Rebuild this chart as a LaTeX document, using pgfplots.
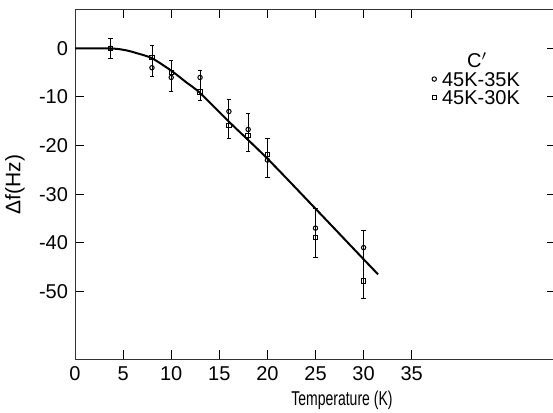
\documentclass[border=0pt]{standalone}
\usepackage{fontspec}
\setmainfont{Liberation Sans}
\usepackage{graphicx}
\usepackage{pgfplots}
\pgfplotsset{compat=1.18}
\usetikzlibrary{calc}

\begin{document}
\begin{tikzpicture}
\begin{axis}[
    name=ax,
    scale only axis,
    width=240.5pt, height=175pt,
    xmin=0, xmax=50,
    ymin=-64, ymax=8,
    xtick={0,5,...,35},
    xticklabels={0,5,10,15,20,25,30,35},
    ytick={-50,-40,...,0},
    yticklabels={-50,-40,-30,-20,-10,0},
    tick label style={font=\fontsize{10}{12}\selectfont},
    major tick length=4.5pt,
    axis line style={line width=0.5pt, black!80},
    tick style={line width=0.5pt, black},
    xlabel={\scalebox{0.7}[1]{Temperature (K)}},
    xlabel style={at={(rel axis cs:0.555,0)}, anchor=base, yshift=-23pt, font=\fontsize{10}{12}\selectfont},
    ylabel={Δf(Hz)},
    ylabel style={at={(rel axis cs:-0.1247,0.5)}, anchor=center, font=\fontsize{10.5}{12}\selectfont},
    legend style={at={(axis cs:36.45,-8.25)}, anchor=west, draw=none, fill=none,
        font=\fontsize{10}{12}\selectfont, row sep=1.35pt, column sep=2.3pt,
        nodes={inner sep=0.5pt, text height=7pt, text depth=0pt}},
    legend cell align=left,
    legend image code/.code={\draw[#1] plot coordinates {(0pt,0pt)};},
]
% error bars (one per temperature)
\addplot[draw=none, mark=none, forget plot,
    error bars/.cd, y dir=both, y explicit,
    error bar style={draw=black, line width=0.45pt},
    error mark options={draw=black, rotate=90, mark size=1.1pt, line width=0.45pt}]
coordinates {
    (3.7,0)      +- (0,2.0)
    (8,-2.65)    +- (0,3.15)
    (10,-5.7)    +- (0,3.1)
    (13,-7.7)    +- (0,3.1)
    (16,-14.55)  +- (0,3.95)
    (18,-17.35)  +- (0,3.95)
    (20,-22.5)   +- (0,4.0)
    (25,-37.95)  +- (0,5.05)
    (30,-44.4)   +- (0,7.0)
};
% fitted curve
\addplot[smooth, tension=0.5, line width=1pt, black, forget plot] coordinates {
    (0,0) (2,0) (3.5,-0.02) (4.5,-0.15) (5.5,-0.5) (6.5,-1.05) (8,-2.05)
    (10,-4.6) (11.5,-6.9) (13,-9.2) (16,-15.1) (20,-22.7)
    (25,-33.0) (30,-43.4) (31.5,-46.5)
};
% 45K-35K
\addplot[only marks, mark=o, mark size=1.1pt, black, line width=0.5pt,
    mark options={fill=white}] coordinates {
    (3.7,0) (8,-4.0) (10,-6.0) (13,-6.0) (16,-13.0) (18,-16.7)
    (20,-23.0) (25,-37.0) (30,-41.0)
};
\addlegendentry{45K-35K}
% 45K-30K
\addplot[only marks, mark=square, mark size=1.1pt, black, line width=0.5pt,
    mark options={fill=white}] coordinates {
    (3.7,0) (8,-1.9) (10,-5.0) (13,-9.0) (16,-15.9) (18,-18.0)
    (20,-21.8) (25,-38.9) (30,-47.9)
};
\addlegendentry{45K-30K}
\node[font=\fontsize{10}{12}\selectfont] at (axis cs:41.8,-2.4) {C$'$};
\end{axis}
\pgfresetboundingbox
\path[use as bounding box] ($(ax.south west)+(-37.5pt,-26.35pt)$) rectangle ($(ax.north east)+(-1.5pt,4.7pt)$);
\end{tikzpicture}
\end{document}
